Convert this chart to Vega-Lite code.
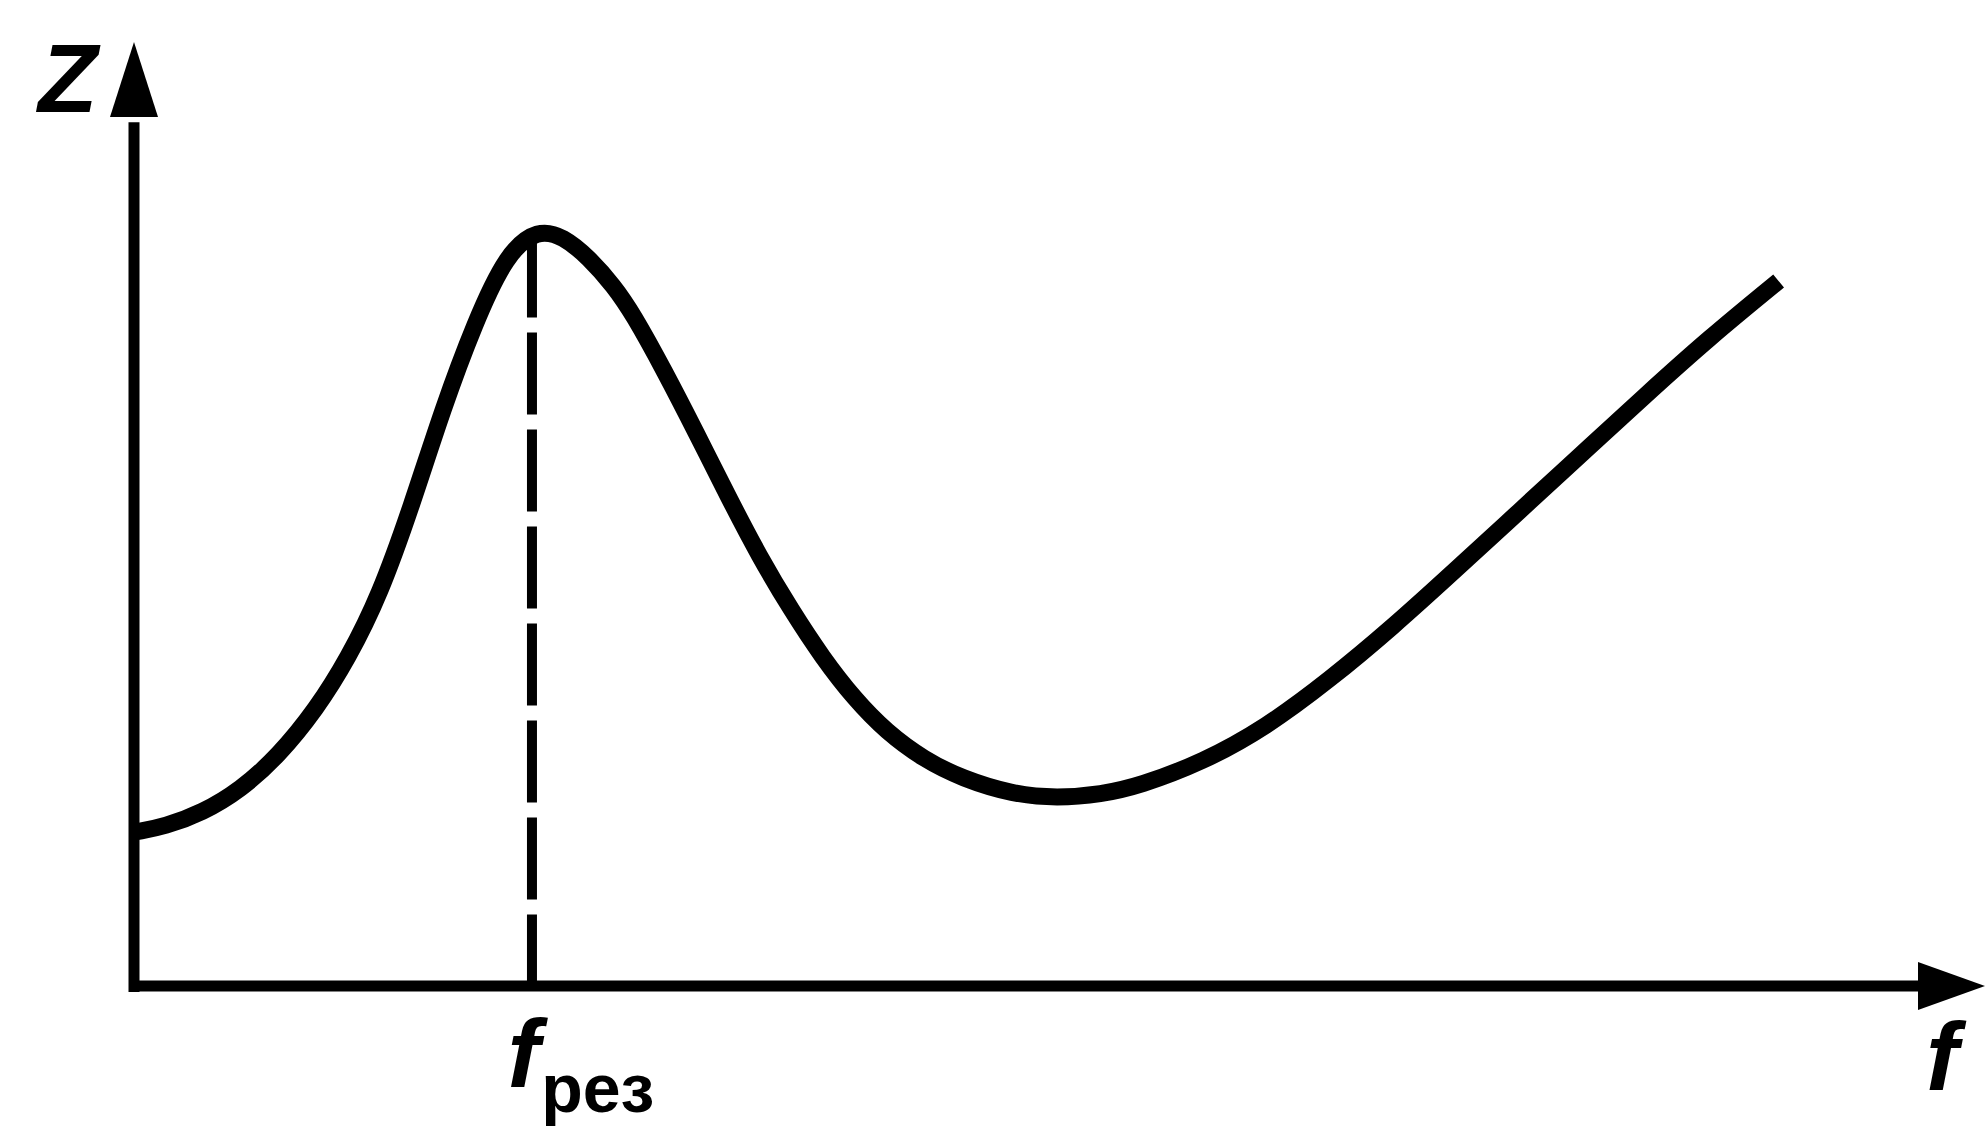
{
  "$schema": "https://vega.github.io/schema/vega-lite/v6.json",
  "autosize": {"type": "none"},
  "padding": {"left": 134, "top": 42, "right": 0, "bottom": 147},
  "width": 1851,
  "height": 944,
  "background": "white",
  "config": {"view": {"stroke": null}},
  "datasets": {
    "curve": [
      {"f": 0.015, "z": 1.634}, {"f": 0.165, "z": 1.688}, {"f": 0.370, "z": 1.836},
      {"f": 0.575, "z": 2.076}, {"f": 0.781, "z": 2.439}, {"f": 0.986, "z": 2.935},
      {"f": 1.157, "z": 3.471}, {"f": 1.328, "z": 4.142}, {"f": 1.499, "z": 5.081},
      {"f": 1.670, "z": 6.127}, {"f": 1.841, "z": 7.025}, {"f": 2.012, "z": 7.760},
      {"f": 2.183, "z": 8.020}, {"f": 2.319, "z": 7.940}, {"f": 2.456, "z": 7.720},
      {"f": 2.593, "z": 7.414}, {"f": 2.696, "z": 7.120}, {"f": 2.866, "z": 6.516},
      {"f": 3.038, "z": 5.859}, {"f": 3.209, "z": 5.188}, {"f": 3.380, "z": 4.544},
      {"f": 3.551, "z": 3.981}, {"f": 3.722, "z": 3.471}, {"f": 3.892, "z": 3.042},
      {"f": 4.064, "z": 2.694}, {"f": 4.269, "z": 2.398}, {"f": 4.474, "z": 2.198},
      {"f": 4.748, "z": 2.030}, {"f": 4.987, "z": 1.990}, {"f": 5.226, "z": 2.030},
      {"f": 5.431, "z": 2.120}, {"f": 5.773, "z": 2.370}, {"f": 6.115, "z": 2.740},
      {"f": 6.457, "z": 3.240}, {"f": 6.799, "z": 3.800}, {"f": 7.141, "z": 4.410},
      {"f": 7.483, "z": 5.028}, {"f": 7.825, "z": 5.644}, {"f": 8.167, "z": 6.261},
      {"f": 8.509, "z": 6.864}, {"f": 8.885, "z": 7.468}
    ],
    "axes": [
      {"axis": "f", "f": -0.027, "z": 0, "f2": 9.66, "z2": 0},
      {"axis": "Z", "f": 0, "z": -0.064, "f2": 0, "z2": 9.15}
    ],
    "resonance": [{"f": 2.15, "z": 7.95, "z2": 0}],
    "arrowUp": [{"f": 0, "z": 9.603}],
    "arrowRight": [{"f": 9.819, "z": 0}],
    "bigLabels": [
      {"text": "Z", "f": -0.357, "z": 9.258},
      {"text": "f", "f": 9.768, "z": -1.102},
      {"text": "f", "f": 2.105, "z": -1.07}
    ],
    "subLabels": [{"text": "рез", "f": 2.2, "z": -1.335}]
  },
  "layer": [
    {
      "data": {"name": "axes"},
      "mark": {"type": "rule", "color": "black", "strokeWidth": 11, "strokeCap": "butt", "clip": false},
      "encoding": {
        "x": {"field": "f", "type": "quantitative", "scale": {"domain": [0, 10], "nice": false, "zero": false}, "axis": null},
        "y": {"field": "z", "type": "quantitative", "scale": {"domain": [0, 10], "nice": false, "zero": false}, "axis": null},
        "x2": {"field": "f2"},
        "y2": {"field": "z2"}
      }
    },
    {
      "data": {"name": "resonance"},
      "mark": {"type": "rule", "color": "black", "strokeWidth": 10, "strokeDash": [82, 15], "strokeCap": "butt", "clip": false},
      "encoding": {
        "x": {"field": "f", "type": "quantitative"},
        "y": {"field": "z", "type": "quantitative"},
        "y2": {"field": "z2"}
      }
    },
    {
      "data": {"name": "curve"},
      "mark": {"type": "line", "color": "black", "strokeWidth": 17, "interpolate": "basis", "strokeCap": "butt", "strokeJoin": "round", "clip": false},
      "encoding": {
        "x": {"field": "f", "type": "quantitative"},
        "y": {"field": "z", "type": "quantitative"}
      }
    },
    {
      "data": {"name": "arrowUp"},
      "mark": {"type": "point", "shape": "M0,-1L-0.64,1L0.64,1Z", "size": 5625, "filled": true, "color": "black", "opacity": 1, "clip": false},
      "encoding": {
        "x": {"field": "f", "type": "quantitative"},
        "y": {"field": "z", "type": "quantitative"}
      }
    },
    {
      "data": {"name": "arrowRight"},
      "mark": {"type": "point", "shape": "M1,0L-1,-0.72L-1,0.72Z", "size": 4489, "filled": true, "color": "black", "opacity": 1, "clip": false},
      "encoding": {
        "x": {"field": "f", "type": "quantitative"},
        "y": {"field": "z", "type": "quantitative"}
      }
    },
    {
      "data": {"name": "bigLabels"},
      "mark": {"type": "text", "font": "Liberation Sans", "fontSize": 97, "fontStyle": "italic", "fontWeight": "bold", "align": "center", "baseline": "alphabetic", "color": "black", "clip": false},
      "encoding": {
        "x": {"field": "f", "type": "quantitative"},
        "y": {"field": "z", "type": "quantitative"},
        "text": {"field": "text"}
      }
    },
    {
      "data": {"name": "subLabels"},
      "mark": {"type": "text", "font": "Liberation Sans", "fontSize": 68, "fontWeight": "bold", "align": "left", "baseline": "alphabetic", "color": "black", "clip": false},
      "encoding": {
        "x": {"field": "f", "type": "quantitative"},
        "y": {"field": "z", "type": "quantitative"},
        "text": {"field": "text"}
      }
    }
  ]
}
